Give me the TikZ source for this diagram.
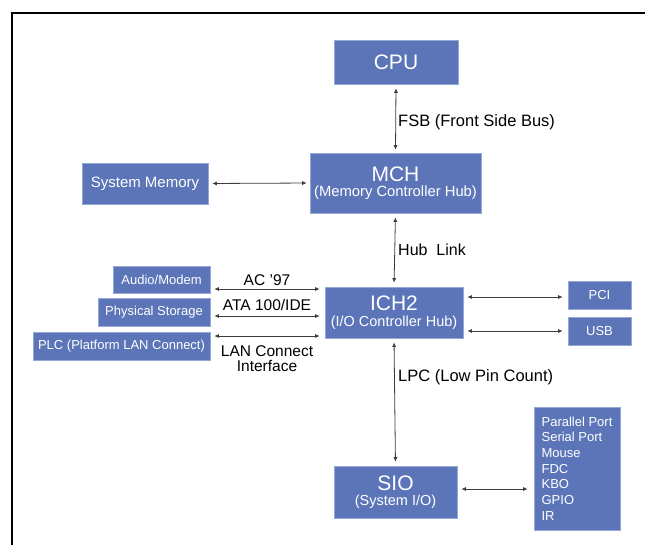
\documentclass[tikz,border=0pt]{standalone}
\usepackage{fontspec}
\setmainfont{Liberation Sans}
\setsansfont{Liberation Sans}
\usetikzlibrary{arrows.meta}
\definecolor{hubblue}{RGB}{91,117,184}
\definecolor{hubedge}{RGB}{150,168,214}
\definecolor{linkgray}{RGB}{60,60,60}
\newcommand\pxsize[1]{\fontsize{#1}{#1}\selectfont}
\begin{document}
\begin{tikzpicture}[x=1pt,y=-1pt,
  blk/.style={draw=hubedge, line width=0.6pt, fill=hubblue, text=white,
    inner sep=0pt, align=center},
  biarrow/.style={linkgray, line width=0.8pt,
    {Latex[length=4.5pt,width=4pt]}-{Latex[length=4.5pt,width=4pt]}},
  lbl/.style={text=black, inner sep=0pt},
  smallt/.style={font=\pxsize{13}}]
\useasboundingbox (0,0) rectangle (645,544);
% frame
\draw[line width=2pt] (12,545) -- (12,13) -- (646,13);

% hubs
\node[blk, minimum width=124, minimum height=44] (cpu) at (396,62)
  {\pxsize{21}CPU};
\node[blk, minimum width=171, minimum height=60] (mch) at (395.5,183)
  {\pxsize{21}MCH\\[3.5pt]\pxsize{14.8}(Memory Controller Hub)};
\node[blk, minimum width=138, minimum height=51] (ich) at (394,312.5)
  {\pxsize{21}ICH2\\[3.5pt]\pxsize{14.5}(I/O Controller Hub)};
\node[blk, minimum width=123, minimum height=52] (sio) at (395.5,492)
  {\pxsize{21}SIO\\[3.5pt]\pxsize{14.5}(System I/O)};

% attached devices
\node[blk, minimum width=126, minimum height=41, font=\pxsize{15}] (mem) at (145,183.5) {System Memory};
\node[blk, minimum width=97, minimum height=27, smallt] (audio) at (161.5,279.5) {Audio/Modem};
\node[blk, minimum width=112, minimum height=28, smallt] (stor) at (154,312) {Physical Storage};
\node[blk, minimum width=177, minimum height=28, smallt] (plc) at (121.5,346) {PLC (Platform LAN Connect)};
\node[blk, minimum width=63, minimum height=28, smallt] (pci) at (599.5,295) {PCI};
\node[blk, minimum width=63, minimum height=28, smallt] (usb) at (599.5,331) {USB};
\node[blk, minimum width=86, minimum height=123, align=left, font=\fontsize{13}{15.7}\selectfont] (per) at (577,468.5)
  {Parallel Port\\Serial Port\\Mouse\\FDC\\KBO\\GPIO\\IR};

% links
\draw[biarrow, shorten <=4pt, shorten >=3pt] (cpu.south) -- (mch.north);
\draw[biarrow, shorten <=4pt, shorten >=4pt] (mch.south) -- (ich.north);
\draw[biarrow, shorten <=4pt, shorten >=4pt] (ich.south) -- (sio.north);
\draw[biarrow, shorten <=4pt, shorten >=3pt] (mem.east) -- (mch.west);
\draw[biarrow, shorten <=4pt, shorten >=5pt] ([yshift=-2pt]ich.east |- pci.west) -- ([yshift=-2pt]pci.west);
\draw[biarrow, shorten <=4pt, shorten >=5pt] (ich.east |- usb.west) -- (usb.west);
\draw[biarrow, shorten <=4pt, shorten >=6pt] ([yshift=3pt]sio.east) -- ([yshift=3pt]sio.east -| per.west);
\draw[biarrow, shorten <=4pt, shorten >=5pt] ([yshift=-9.5pt]audio.east) -- ([yshift=-9.5pt]audio.east -| ich.west);
\draw[biarrow, shorten <=4pt, shorten >=5pt] ([yshift=-4pt]stor.east) -- ([yshift=-4pt]stor.east -| ich.west);
\draw[biarrow, shorten <=4pt, shorten >=5pt] ([yshift=10pt]plc.east) -- ([yshift=10pt]plc.east -| ich.west);

% bus labels
\node[lbl, anchor=west, font=\pxsize{16.5}] (fsb) at (398,122) {FSB (Front Side Bus)};
\node[lbl, anchor=west, font=\pxsize{16}] (hub) at (398,250) {Hub\ \ Link};
\node[lbl, anchor=west, font=\pxsize{16.5}] (lpc) at (398,377) {LPC (Low Pin Count)};
\node[lbl, font=\pxsize{15.5}] (ac) at (267,280) {AC '97};
\node[lbl, font=\pxsize{15.5}] (ata) at (267,305) {ATA 100/IDE};
\node[lbl, font=\pxsize{15.5}, align=center] (lan) at (267,358.5) {LAN Connect\\[-0.5pt]Interface};
\end{tikzpicture}
\end{document}
